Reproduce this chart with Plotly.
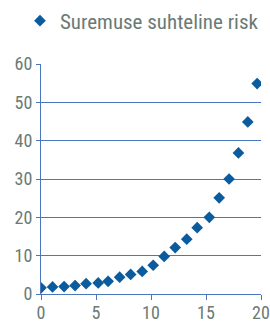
import plotly.graph_objects as go

series_name = "Suremuse suhteline risk"
x_vals = [0.0, 1.05, 2.1, 3.1, 4.1, 5.2, 6.1, 7.15, 8.15, 9.2, 10.2, 11.2, 12.2, 13.25, 14.2, 15.3, 16.2, 17.1, 17.95, 18.8, 19.65]
risk = [1.6, 1.85, 1.95, 2.2, 2.7, 2.9, 3.3, 4.4, 5.1, 5.9, 7.5, 9.8, 12.1, 14.3, 17.3, 20.0, 25.1, 30.0, 36.8, 44.9, 54.9]
x_ticks = [0, 5, 10, 15, 20]
y_ticks = [0, 10, 20, 30, 40, 50, 60]

font_family = "Liberation Sans Narrow, Roboto Condensed, Arial Narrow, sans-serif"
text_color = "#6b7a74"
axis_color = "#4a76bd"

fig = go.Figure()
fig.add_trace(go.Scatter(
    x=x_vals, y=risk, mode="markers", name=series_name,
    marker=dict(symbol="diamond", size=9, color="#0b5c9e"),
))

fig.update_layout(
    width=270, height=324,
    margin=dict(l=41, r=9, t=64, b=30, autoexpand=False),
    paper_bgcolor="white", plot_bgcolor="white",
    font=dict(family=font_family, color=text_color, size=18),
    showlegend=True,
    legend=dict(x=0.074, y=1.187, xref="container", yref="paper",
                xanchor="left", yanchor="middle",
                font=dict(size=21, color=text_color),
                itemwidth=30, bgcolor="rgba(0,0,0,0)"),
    xaxis=dict(range=[0, 20], tickvals=x_ticks, showgrid=False, zeroline=False,
               automargin=False, ticklabeloverflow="allow", ticklabelstandoff=-3,
               showline=True, linecolor=axis_color, linewidth=1,
               ticks="outside", ticklen=5, tickcolor=axis_color,
               tickfont=dict(size=18, color=text_color)),
    yaxis=dict(range=[0, 60], tickvals=y_ticks, showgrid=True, gridcolor=axis_color,
               automargin=False,
               gridwidth=1, zeroline=False, showline=True, linecolor=axis_color,
               linewidth=1, ticks="outside", ticklen=4, tickcolor=axis_color,
               tickfont=dict(size=18, color=text_color)),
)

fig.write_html(
    "out.html",
    config={"displayModeBar": False},
    post_script="document.body.style.margin='0';document.body.style.overflow='hidden';",
)
